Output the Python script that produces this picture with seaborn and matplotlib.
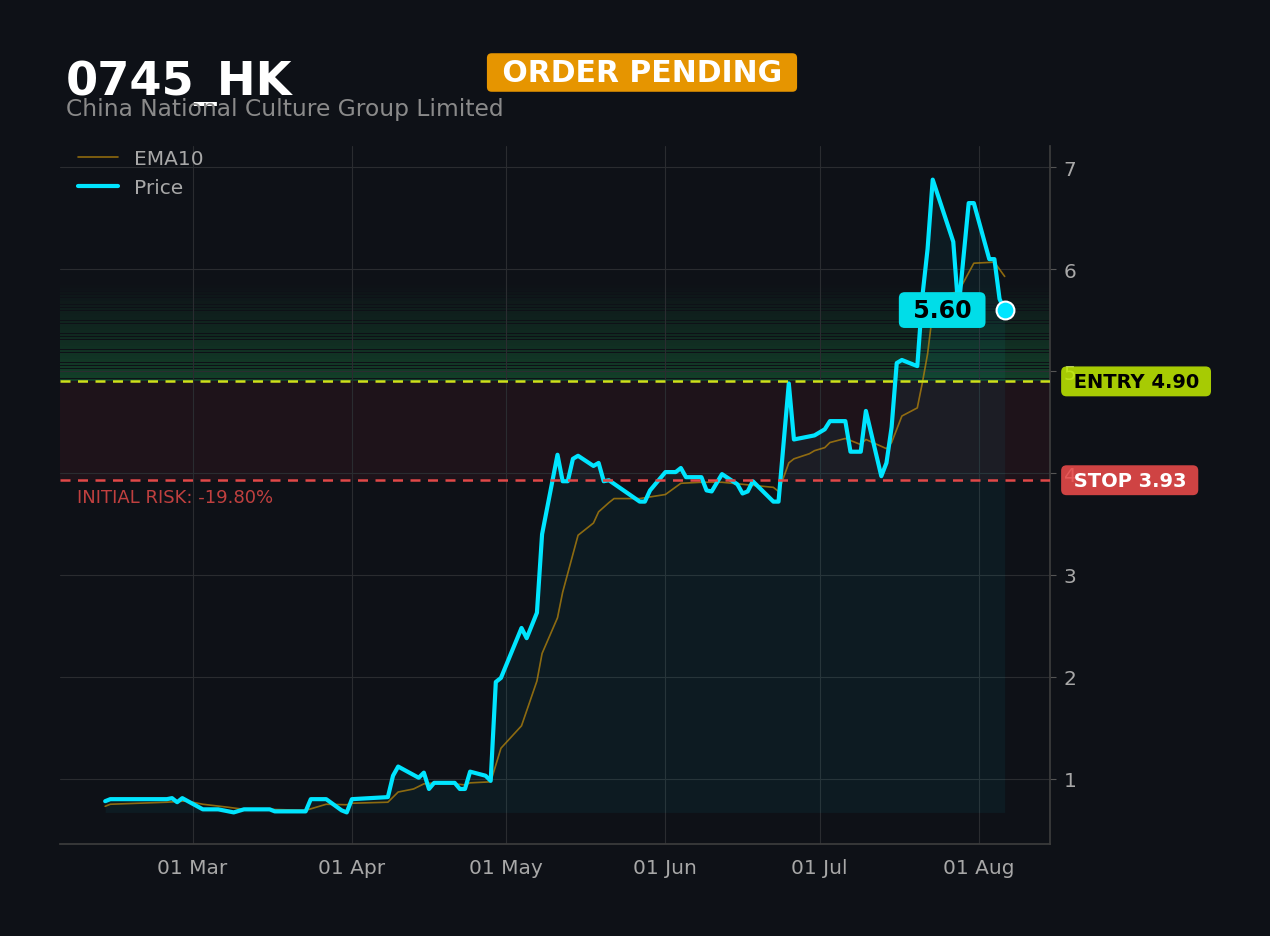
import numpy as np
import pandas as pd
import seaborn as sns
import matplotlib.pyplot as plt
import matplotlib.dates as mdates
from matplotlib.ticker import MultipleLocator

ticker = "0745_HK"
company = "China National Culture Group Limited"
status = "ORDER PENDING"
entry_price = 4.90
stop_price = 3.93
target_price = 5.85

# price line (vertices)
price_dates = [
    "2025-02-12", "2025-02-13", "2025-02-24", "2025-02-25", "2025-02-26", "2025-02-27",
    "2025-03-03", "2025-03-06", "2025-03-09", "2025-03-11", "2025-03-16", "2025-03-17",
    "2025-03-23", "2025-03-24", "2025-03-27", "2025-03-30", "2025-03-31", "2025-04-01",
    "2025-04-08", "2025-04-09", "2025-04-10", "2025-04-14", "2025-04-15", "2025-04-16",
    "2025-04-17", "2025-04-21", "2025-04-22", "2025-04-23", "2025-04-24", "2025-04-27",
    "2025-04-28", "2025-04-29", "2025-04-30", "2025-05-04", "2025-05-05", "2025-05-07",
    "2025-05-08", "2025-05-11", "2025-05-12", "2025-05-13", "2025-05-14", "2025-05-15",
    "2025-05-18", "2025-05-19", "2025-05-20", "2025-05-21", "2025-05-27", "2025-05-28",
    "2025-05-29", "2025-06-01", "2025-06-03", "2025-06-04", "2025-06-05", "2025-06-08",
    "2025-06-09", "2025-06-10", "2025-06-12", "2025-06-15", "2025-06-16", "2025-06-17",
    "2025-06-18", "2025-06-22", "2025-06-23", "2025-06-25", "2025-06-26", "2025-06-29",
    "2025-06-30", "2025-07-02", "2025-07-03", "2025-07-06", "2025-07-07", "2025-07-09",
    "2025-07-10", "2025-07-13", "2025-07-14", "2025-07-15", "2025-07-16", "2025-07-17",
    "2025-07-20", "2025-07-21", "2025-07-22", "2025-07-23", "2025-07-27", "2025-07-28",
    "2025-07-30", "2025-07-31", "2025-08-03", "2025-08-04", "2025-08-05", "2025-08-06",
]
price_values = [
    0.78, 0.80, 0.80, 0.81, 0.77, 0.81,
    0.70, 0.70, 0.67, 0.70, 0.70, 0.68,
    0.68, 0.80, 0.80, 0.69, 0.67, 0.80,
    0.82, 1.03, 1.12, 1.01, 1.06, 0.90,
    0.96, 0.96, 0.90, 0.90, 1.07, 1.03,
    0.98, 1.95, 1.99, 2.48, 2.38, 2.63,
    3.40, 4.18, 3.92, 3.92, 4.14, 4.17,
    4.07, 4.10, 3.92, 3.93, 3.72, 3.72,
    3.83, 4.01, 4.01, 4.05, 3.96, 3.96,
    3.83, 3.82, 3.99, 3.89, 3.80, 3.82,
    3.92, 3.72, 3.72, 4.88, 4.33, 4.36,
    4.37, 4.43, 4.51, 4.51, 4.21, 4.21,
    4.61, 3.97, 4.10, 4.45, 5.08, 5.11,
    5.05, 5.74, 6.20, 6.88, 6.27, 5.60,
    6.65, 6.65, 6.10, 6.10, 5.71, 5.60,
]

# EMA10 line (vertices)
ema_dates = [
    "2025-02-12", "2025-02-13", "2025-02-24", "2025-02-27", "2025-02-28", "2025-03-03",
    "2025-03-08", "2025-03-11", "2025-03-16", "2025-03-23", "2025-03-25", "2025-03-27",
    "2025-03-31", "2025-04-01", "2025-04-08", "2025-04-10", "2025-04-13", "2025-04-15",
    "2025-04-17", "2025-04-21", "2025-04-23", "2025-04-24", "2025-04-28", "2025-04-30",
    "2025-05-04", "2025-05-07", "2025-05-08", "2025-05-11", "2025-05-12", "2025-05-15",
    "2025-05-18", "2025-05-19", "2025-05-21", "2025-05-22", "2025-05-27", "2025-06-01",
    "2025-06-04", "2025-06-08", "2025-06-12", "2025-06-16", "2025-06-22", "2025-06-23",
    "2025-06-25", "2025-06-26", "2025-06-29", "2025-06-30", "2025-07-02", "2025-07-03",
    "2025-07-06", "2025-07-09", "2025-07-10", "2025-07-14", "2025-07-15", "2025-07-17",
    "2025-07-20", "2025-07-21", "2025-07-22", "2025-07-23", "2025-07-26", "2025-07-28",
    "2025-07-31", "2025-08-04", "2025-08-06",
]
ema_values = [
    0.73, 0.75, 0.77, 0.78, 0.78, 0.75,
    0.72, 0.70, 0.70, 0.69, 0.72, 0.75,
    0.745, 0.76, 0.77, 0.87, 0.90, 0.95,
    0.96, 0.95, 0.94, 0.96, 0.97, 1.30,
    1.52, 1.96, 2.23, 2.58, 2.83, 3.39,
    3.51, 3.62, 3.71, 3.75, 3.75, 3.79,
    3.90, 3.91, 3.91, 3.89, 3.86, 3.82,
    4.10, 4.14, 4.19, 4.22, 4.25, 4.30,
    4.34, 4.28, 4.33, 4.24, 4.30, 4.56,
    4.64, 4.89, 5.17, 5.58, 5.76, 5.78,
    6.06, 6.07, 5.93,
]

BG = "#0e1117"
CYAN = "#00e5ff"
GRID = "#2a2c30"
TXT = "#a8a8a8"

price = pd.DataFrame({"date": pd.to_datetime(price_dates), "close": price_values})
ema = pd.DataFrame({"date": pd.to_datetime(ema_dates), "ema10": ema_values})

sns.set_theme(style="dark", rc={
    "figure.facecolor": BG,
    "axes.facecolor": BG,
    "axes.edgecolor": "#444444",
    "grid.color": GRID,
    "text.color": TXT,
    "xtick.color": TXT,
    "ytick.color": TXT,
})
plt.rcParams["font.family"] = ["DejaVu Sans"]

fig = plt.figure(figsize=(12.7, 9.37), dpi=100)
ax = fig.add_axes([0.0472, 0.0982, 0.7795, 0.7449])

# zones
ax.axhspan(stop_price, entry_price, color="#dc3545", alpha=0.08, lw=0, zorder=0)
band = np.linspace(entry_price, target_price, 31)
for i, (lo, hi) in enumerate(zip(band[:-1], band[1:])):
    ax.axhspan(lo, hi * 0.999, color="#22c55e", alpha=0.26 * (1 - i / 30), lw=0, zorder=0)

# area under price
ax.fill_between(price["date"], price["close"], price["close"].min(),
                color=CYAN, alpha=0.05, lw=0, zorder=1)

sns.lineplot(data=ema, x="date", y="ema10", ax=ax, color="#b8860b", alpha=0.75,
             lw=1.2, label="EMA10", zorder=3)
sns.lineplot(data=price, x="date", y="close", ax=ax, color=CYAN, lw=3,
             label="Price", zorder=4)

ax.axhline(entry_price, color="#cde01a", lw=1.8, ls=(0, (4, 3)), zorder=5)
ax.axhline(stop_price, color="#e04848", lw=1.8, ls=(0, (4, 3)), zorder=5)

# last price marker and label
last = price.iloc[-1]
ax.scatter([last["date"]], [last["close"]], s=165, color=CYAN, edgecolor="white",
           linewidth=1.5, zorder=7)
ax.annotate(f" {last['close']:.2f} ", xy=(last["date"], last["close"]),
            xytext=(-45, 0), textcoords="offset points", ha="center", va="center",
            fontsize=17, fontweight="bold", color="black", zorder=8,
            bbox=dict(boxstyle="round,pad=0.25", fc="#00dde8", ec="none"))

# entry / stop tags on the right (slightly see-through, tick labels show faintly)
ax.annotate(f" ENTRY {entry_price:.2f} ", xy=(1.0, entry_price),
            xycoords=("axes fraction", "data"), xytext=(12, 0),
            textcoords="offset points", ha="left", va="center",
            fontsize=14, fontweight="bold", color="black", annotation_clip=False,
            bbox=dict(boxstyle="round,pad=0.28", fc="#c3ed00", ec="none", alpha=0.85))
ax.annotate(f" STOP {stop_price:.2f} ", xy=(1.0, stop_price),
            xycoords=("axes fraction", "data"), xytext=(12, 0),
            textcoords="offset points", ha="left", va="center",
            fontsize=14, fontweight="bold", color="white", annotation_clip=False,
            bbox=dict(boxstyle="round,pad=0.28", fc="#f24d4c", ec="none", alpha=0.85))

risk = (stop_price - entry_price) / entry_price * 100
ax.annotate(f"INITIAL RISK: {risk:.2f}%", xy=(0.017, stop_price),
            xycoords=("axes fraction", "data"), xytext=(0, -12),
            textcoords="offset points", ha="left", va="center",
            fontsize=13, color="#c0403f")

# axes styling
pad = pd.Timedelta(days=8.8)
ax.set_xlim(price["date"].iloc[0] - pad, price["date"].iloc[-1] + pad)
ax.set_ylim(0.36, 7.21)
ax.yaxis.tick_right()
ax.yaxis.set_major_locator(MultipleLocator(1))
ax.xaxis.set_major_locator(mdates.MonthLocator(bymonthday=1))
ax.xaxis.set_major_formatter(mdates.DateFormatter("%d %b"))
ax.tick_params(axis="both", labelsize=14.5, length=4, width=0.8, colors=TXT,
               color="#555555", pad=6)
ax.set_xlabel("")
ax.set_ylabel("")
ax.grid(True, color=GRID, lw=0.8)
for side in ["left", "top"]:
    ax.spines[side].set_visible(False)
for side in ["right", "bottom"]:
    ax.spines[side].set_color("#3c3c3c")

leg = ax.legend(loc="upper left", bbox_to_anchor=(0.015, 1.0), frameon=False,
                fontsize=14.5, borderaxespad=0, borderpad=0.15, labelcolor=TXT)

# header
fig.text(0.052, 1 - 95.5 / 937, ticker, fontsize=33.3, fontweight="bold",
         color="white", va="baseline")
fig.text(0.052, 1 - 116 / 937, company, fontsize=16.8, color="#8a8a8a", va="baseline")
fig.text(642 / 1270, 1 - 73.5 / 937, f" {status} ", fontsize=21.5, fontweight="bold",
         color="white", ha="center", va="center",
         bbox=dict(boxstyle="round,pad=0.16", fc="#e69500", ec="none"))

fig.savefig("out.png", dpi=100, facecolor=BG)
